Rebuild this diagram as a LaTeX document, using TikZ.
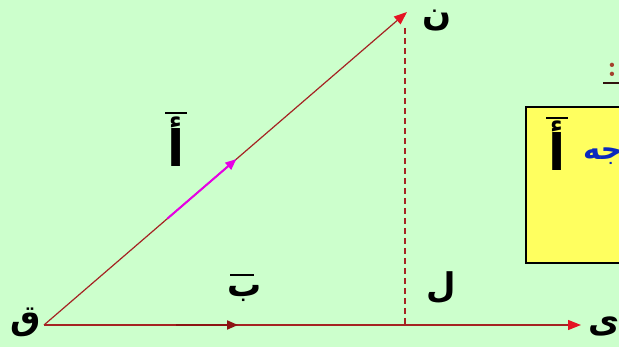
\documentclass[tikz,border=0pt]{standalone}
\usepackage{fontspec}
\newfontfamily\arabicfont[Script=Arabic]{DejaVu Sans}
\TeXXeTstate=1
\usetikzlibrary{arrows.meta, positioning, calc}
\definecolor{VecBg}{RGB}{204,255,204}
\definecolor{VecLine}{RGB}{165,35,35}
\definecolor{VecHead}{RGB}{228,20,35}
\definecolor{VecDark}{RGB}{140,20,20}
\definecolor{VecMagenta}{RGB}{230,0,230}
\definecolor{VecYellow}{RGB}{255,255,95}
\definecolor{VecBlue}{RGB}{10,40,190}
\definecolor{VecBrown}{RGB}{165,65,45}

\begin{document}
\begin{tikzpicture}[x=1pt,y=-1pt,
  letter/.style={font=\arabicfont\bfseries\fontsize{34}{40}\selectfont, inner sep=0pt},
  tallletter/.style={font=\arabicfont\bfseries\fontsize{50}{56}\selectfont, inner sep=0pt},
  vecbar/.style={black, line width=1.3pt},
  vecline/.style={VecLine, line width=1.2pt, -{Triangle[length=13pt,width=10pt,color=VecHead,fill=VecHead]}},
  partline/.style={line width=2pt, -{Triangle[length=11pt,width=9pt]}}]
  \path[use as bounding box] (0,0) rectangle (619,347);
  \clip (0,0) rectangle (619,347);
  \fill[VecBg] (0,0) rectangle (619,347);

  % points of the triangle
  \coordinate (Q) at (44,325);
  \coordinate (N) at (407,12);
  \coordinate (Y) at (581,325);
  \coordinate (Ltop) at (405,28);
  \coordinate (Lfoot) at (405,325);
  \coordinate (Ma) at ($(Q)!0.34!(N)$);
  \coordinate (Mb) at ($(Q)!0.53!(N)$);
  \coordinate (Ba) at (176,325);
  \coordinate (Bb) at (238,325);

  % yellow note card
  \draw[black, line width=1.5pt, fill=VecYellow] (526,107) rectangle (640,263);
  \node[tallletter] (cardA) at (557,146) {\beginR أ\endR};
  \draw[vecbar] (546,118) -- (568,118);
  \node[letter, text=VecBlue, font=\arabicfont\bfseries\fontsize{29}{32}\selectfont, anchor=west] (cardT) at (583,156) {\beginR جه\endR};

  % heading colon
  \node[text=VecBrown, font=\bfseries\fontsize{30}{34}\selectfont] (colon) at (612,70) {:};
  \draw[black!70!VecBrown, line width=1.3pt] (603,83) -- (625,83);

  % vectors
  \draw[vecline] (Q) -- (N);
  \draw[vecline] (Q) -- (Y);
  \draw[VecLine, line width=1.3pt, dash pattern=on 6pt off 4pt] (Ltop) -- (Lfoot);
  \draw[partline, VecMagenta] (Ma) -- (Mb);
  \draw[partline, VecDark] (Ba) -- (Bb);

  % letters
  \node[letter] (q) at (26,322) {\beginR ق\endR};
  \node[letter] (n) at (437,21) {\beginR ن\endR};
  \node[letter] (l) at (441,288) {\beginR ل\endR};
  \node[letter] (y) at (604,326) {\beginR ى\endR};
  \node[tallletter] (a) at (176,142) {\beginR أ\endR};
  \draw[vecbar] (165,113) -- (187,113);
  \node[letter] (b) at (245,293) {\beginR ب\endR};
  \draw[vecbar] (230,275) -- (254,275);
\end{tikzpicture}
\end{document}
